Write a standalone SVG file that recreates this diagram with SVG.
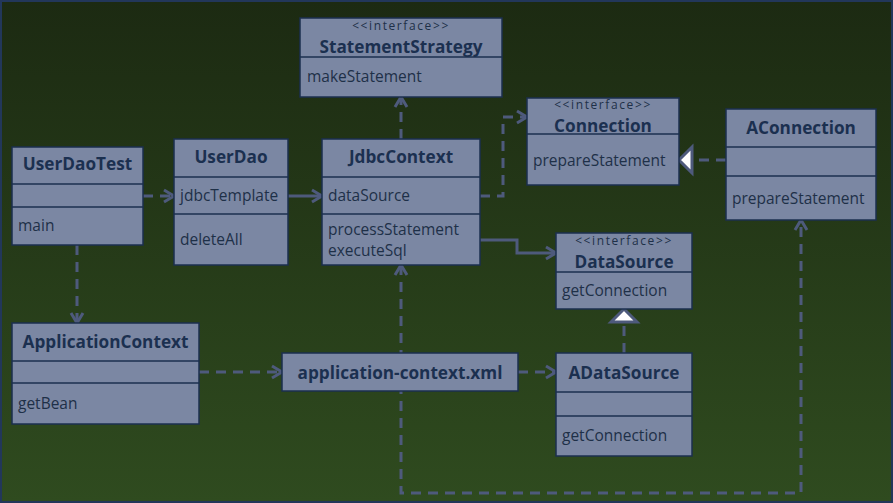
<svg xmlns="http://www.w3.org/2000/svg" width="893" height="503" viewBox="0 0 893 503">
<defs>
<linearGradient id="bg" x1="0" y1="0" x2="0" y2="1">
<stop offset="0" stop-color="#1c2a12"/>
<stop offset="1" stop-color="#2f4b1f"/>
</linearGradient>
<marker id="open" markerUnits="userSpaceOnUse" markerWidth="16" markerHeight="18" viewBox="-13 -9 16 18" refX="0" refY="0" orient="auto-start-reverse">
<path d="M-10,-6 L0,0 L-10,6" fill="none" stroke="#4e5a7c" stroke-width="3" stroke-dasharray="none"/>
</marker>
<marker id="tri" markerUnits="userSpaceOnUse" markerWidth="22" markerHeight="36" viewBox="-17 -18 22 36" refX="0" refY="0" orient="auto">
<path d="M-13,-13 L0,0 L-13,13 Z" fill="#ffffff" stroke="#4e5a7c" stroke-width="3" stroke-linejoin="miter" stroke-dasharray="none"/>
</marker>
</defs>
<style>
.box{fill:#7b87a3;stroke:#1b2f4f;stroke-width:1.5}
.div{stroke:#1b2f4f;stroke-width:1.5}
.t{font-family:"Open Sans","Noto Sans",sans-serif;font-weight:bold;font-size:17.2px;fill:#1b3050;text-anchor:middle}
.m{font-family:"Open Sans","Noto Sans",sans-serif;font-size:15.5px;fill:#1e3048}
.s{font-family:"Open Sans","Noto Sans",sans-serif;font-size:12px;fill:#1e3048;text-anchor:middle;letter-spacing:1.6px}
.c{fill:none;stroke:#4e5a7c;stroke-width:3}
.d{stroke-dasharray:10 7}
</style>
<rect x="0" y="0" width="893" height="503" fill="url(#bg)"/>
<rect x="1" y="1" width="891" height="501" fill="none" stroke="#22375a" stroke-width="2"/>

<g id="connectors">
<path class="c d" d="M401,139 L401,97" marker-end="url(#open)"/>
<path class="c d" d="M480,196 L503,196 L503,117 L527,117" marker-end="url(#open)"/>
<path class="c" d="M480,240 L517,240 L517,253 L556,253" marker-end="url(#open)"/>
<path class="c" d="M288,196 L322,196" marker-end="url(#open)"/>
<path class="c d" d="M143,196 L174,196" marker-end="url(#open)"/>
<path class="c d" d="M77,245 L77,323" marker-end="url(#open)"/>
<path class="c d" d="M199,372 L282,372" marker-end="url(#open)"/>
<path class="c d" d="M518,372 L556,372" marker-end="url(#open)"/>
<path class="c d" d="M624,353 L624,309" marker-end="url(#tri)"/>
<path class="c d" d="M726,160 L679,160" marker-end="url(#tri)"/>
<path class="c d" d="M401,265 L401,493 L801,493 L801,220" marker-start="url(#open)" marker-end="url(#open)"/>
</g>

<g id="StatementStrategy">
<rect class="box" x="300" y="18" width="202" height="79"/>
<line class="div" x1="300" y1="57" x2="502" y2="57"/>
<text class="s" x="401" y="29.5">&lt;&lt;interface&gt;&gt;</text>
<text class="t" x="401" y="53">StatementStrategy</text>
<text class="m" x="307" y="82">makeStatement</text>
</g>

<g id="Connection">
<rect class="box" x="527" y="98" width="152" height="87"/>
<line class="div" x1="527" y1="134" x2="679" y2="134"/>
<text class="s" x="603" y="108.5">&lt;&lt;interface&gt;&gt;</text>
<text class="t" x="603" y="132">Connection</text>
<text class="m" x="533" y="166">prepareStatement</text>
</g>

<g id="AConnection">
<rect class="box" x="726" y="109" width="150" height="111"/>
<line class="div" x1="726" y1="147" x2="876" y2="147"/>
<line class="div" x1="726" y1="176" x2="876" y2="176"/>
<text class="t" x="801" y="134">AConnection</text>
<text class="m" x="732" y="204">prepareStatement</text>
</g>

<g id="UserDaoTest">
<rect class="box" x="12" y="147" width="131" height="98"/>
<line class="div" x1="12" y1="184" x2="143" y2="184"/>
<line class="div" x1="12" y1="207" x2="143" y2="207"/>
<text class="t" x="77.5" y="170">UserDaoTest</text>
<text class="m" x="18" y="231">main</text>
</g>

<g id="UserDao">
<rect class="box" x="174" y="139" width="114" height="126"/>
<line class="div" x1="174" y1="177" x2="288" y2="177"/>
<line class="div" x1="174" y1="214" x2="288" y2="214"/>
<text class="t" x="231" y="163">UserDao</text>
<text class="m" x="180" y="201">jdbcTemplate</text>
<text class="m" x="180" y="245">deleteAll</text>
</g>

<g id="JdbcContext">
<rect class="box" x="322" y="139" width="158" height="126"/>
<line class="div" x1="322" y1="177" x2="480" y2="177"/>
<line class="div" x1="322" y1="214" x2="480" y2="214"/>
<text class="t" x="401" y="163">JdbcContext</text>
<text class="m" x="328" y="201">dataSource</text>
<text class="m" x="328" y="235">processStatement</text>
<text class="m" x="328" y="256">executeSql</text>
</g>

<g id="DataSource">
<rect class="box" x="556" y="233" width="136" height="76"/>
<line class="div" x1="556" y1="272" x2="692" y2="272"/>
<text class="s" x="624" y="244.5">&lt;&lt;interface&gt;&gt;</text>
<text class="t" x="624" y="268">DataSource</text>
<text class="m" x="562" y="296">getConnection</text>
</g>

<g id="ApplicationContext">
<rect class="box" x="12" y="323" width="187" height="101"/>
<line class="div" x1="12" y1="361" x2="199" y2="361"/>
<line class="div" x1="12" y1="383" x2="199" y2="383"/>
<text class="t" x="105.5" y="348">ApplicationContext</text>
<text class="m" x="18" y="409">getBean</text>
</g>

<g id="application-context-xml">
<rect class="box" x="282" y="353" width="236" height="38"/>
<text class="t" x="400" y="379">application-context.xml</text>
</g>

<g id="ADataSource">
<rect class="box" x="556" y="353" width="136" height="103"/>
<line class="div" x1="556" y1="392" x2="692" y2="392"/>
<line class="div" x1="556" y1="416" x2="692" y2="416"/>
<text class="t" x="624" y="379">ADataSource</text>
<text class="m" x="562" y="441">getConnection</text>
</g>
</svg>
